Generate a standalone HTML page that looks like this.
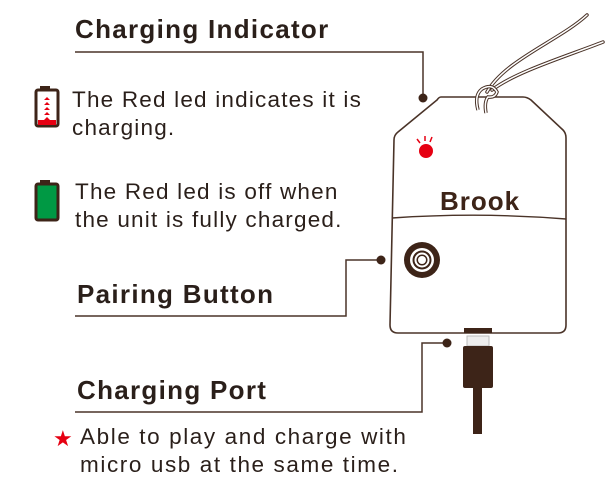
<!DOCTYPE html><html><head><style>
body{margin:0;width:616px;height:479px;background:#fff;position:relative;overflow:hidden;font-family:"Liberation Sans",sans-serif;color:#2a1f1a}
.t{position:absolute;font-weight:bold;font-size:26px;letter-spacing:1.3px;color:#2a1f1a;white-space:nowrap}
.p{position:absolute;font-size:22.5px;letter-spacing:1.2px;line-height:28px;color:#2a1f1a;white-space:nowrap}
</style></head><body>
<svg width="616" height="479" style="position:absolute;left:0;top:0">
<g stroke="#4a3328" stroke-width="1.5" fill="none">
<polyline points="75,52 423,52 423,98"/>
<polyline points="381,260 346,260 346,316 75,316"/>
<polyline points="447,343 422,343 422,412 75,412"/>
</g>
<g fill="#3d2418"><circle cx="423" cy="98" r="4.5"/><circle cx="381" cy="260" r="4.5"/><circle cx="447" cy="343" r="4.5"/></g>
<g stroke="#4a3328" stroke-width="3.5" fill="none" stroke-linecap="round"><path d="M487,92 C505,60 560,40 587,15"/><path d="M492,90 C515,72 570,55 603,42"/></g>
<g stroke="#fff" stroke-width="1.5" fill="none" stroke-linecap="round"><path d="M487,92 C505,60 560,40 587,15"/><path d="M492,90 C515,72 570,55 603,42"/></g>
<path d="M441,97 L523,97 Q527,97 531,100 L563,130 Q566,133 566,138 L566,325 Q566,333 558,333 L398,333 Q390,333 390,325 L394,140 Q394,135 398,132 L437,100 Q439,97 441,97 Z" fill="#fff" stroke="#4a3328" stroke-width="1.6"/>
<path d="M392,218 Q480,212 566,219" stroke="#4a3328" stroke-width="1.4" fill="none"/>
<path d="M478,110 Q474,95 482,89 Q492,83 497,92 Q495,98 488,97 Q484,102 486,113" stroke="#4a3328" stroke-width="3.5" fill="none"/>
<path d="M478,110 Q474,95 482,89 Q492,83 497,92 Q495,98 488,97 Q484,102 486,113" stroke="#fff" stroke-width="1.5" fill="none"/>
<circle cx="426" cy="151" r="7" fill="#e60012"/>
<g stroke="#e60012" stroke-width="1.5"><line x1="417" y1="139" x2="420" y2="143"/><line x1="425" y1="136" x2="425" y2="141"/><line x1="432" y1="137" x2="430" y2="142"/></g>
<circle cx="422" cy="260" r="18" fill="#3d2418"/><circle cx="422" cy="260" r="12" fill="#fff"/><circle cx="422" cy="260" r="9.5" fill="#3d2418"/><circle cx="422" cy="260" r="7.5" fill="#fff"/><circle cx="422" cy="260" r="5.5" fill="#3d2418"/><circle cx="422" cy="260" r="4" fill="#fff"/>
<text x="440" y="210" font-family="Liberation Sans" font-weight="bold" font-size="26" letter-spacing="1" fill="#3d2418">Brook</text>
<rect x="464" y="328" width="28" height="5" fill="#3d2418"/>
<rect x="467" y="336" width="22" height="10" fill="#eee" stroke="#bbb"/>
<rect x="463" y="346" width="30" height="42" rx="2" fill="#3d2418"/>
<rect x="473" y="388" width="9" height="46" fill="#3d2418"/>
<rect x="40" y="86" width="10" height="4" fill="#3d2418"/>
<rect x="36" y="90" width="22" height="36" rx="2" fill="#fff" stroke="#3d2418" stroke-width="3"/>
<rect x="38" y="120" width="18" height="5" fill="#e60012"/>
<g fill="#e60012"><path d="M47,97 l-3,3 h6z M47,102 l-3,3 h6z M47,107 l-3,3 h6z M47,112 l-3,3 h6z M47,117 l-3,3 h6z"/></g>
<rect x="40" y="180" width="10" height="4" fill="#3d2418"/>
<rect x="36" y="184" width="22" height="36" rx="2" fill="#009944" stroke="#3d2418" stroke-width="3"/>
<text x="53" y="446" font-size="22" fill="#e60012">★</text>
</svg>
<div class="t" style="left:75px;top:14px">Charging Indicator</div>
<div class="p" style="left:72px;top:86px">The Red led indicates it is<br>charging.</div>
<div class="p" style="left:75px;top:178px">The Red led is off when<br>the unit is fully charged.</div>
<div class="t" style="left:77px;top:279px">Pairing Button</div>
<div class="t" style="left:77px;top:375px">Charging Port</div>
<div class="p" style="left:80px;top:423px;letter-spacing:1.6px">Able to play and charge with<br>micro usb at the same time.</div>
</body></html>
